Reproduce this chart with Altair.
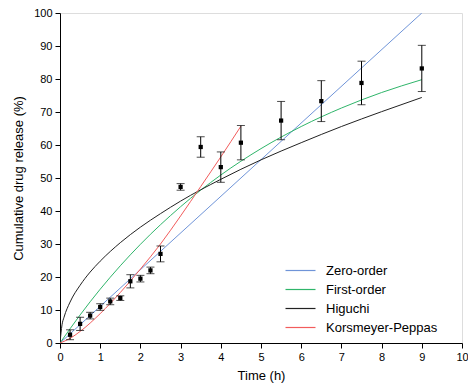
import altair as alt
import pandas as pd

# Experimental data
time = [0.25, 0.5, 0.75, 1.0, 1.25, 1.5, 1.75, 2.0, 2.25, 2.5, 3.0, 3.5, 4.0, 4.5, 5.5, 6.5, 7.5, 9.0]
release = [2.5, 5.8, 8.3, 10.9, 12.6, 13.6, 18.7, 19.5, 22.0, 27.0, 47.3, 59.4, 53.3, 60.7, 67.4, 73.3, 78.8, 83.2]
err = [1.5, 2.0, 1.0, 1.0, 1.0, 0.7, 2.0, 1.0, 1.0, 2.4, 1.0, 3.1, 4.6, 5.2, 5.8, 6.2, 6.6, 7.0]

# Model curves
zero_t = [0, 9.0]
zero_v = [0, 100.0]
first_t = [0, 0.5, 1, 1.5, 2, 3, 4, 5, 6, 7, 8, 9]
first_v = [0, 8.5, 16.3, 23.4, 29.9, 41.3, 50.9, 58.9, 65.6, 71.2, 75.9, 79.8]
hig_t = [0, 0.05, 0.1, 0.25, 0.5, 0.75, 1, 1.5, 2, 2.5, 3, 4, 5, 6, 7, 8, 9]
hig_v = [0, 5.5, 7.8, 12.4, 17.5, 21.5, 24.8, 30.4, 35.1, 39.2, 43.0, 49.6, 55.5, 60.7, 65.6, 70.1, 74.4]
kp_t = [0, 0.25, 0.5, 1, 1.5, 2, 2.5, 3, 3.5, 4, 4.5]
kp_v = [0, 1.4, 3.5, 8.9, 15.3, 22.4, 30.0, 38.5, 47.4, 56.4, 65.7]

models = ["Zero-order", "First-order", "Higuchi", "Korsmeyer-Peppas"]
colors = ["#6f94d8", "#2fb56a", "#222222", "#f25c5c"]

rows = []
for name, ts, vs in zip(models, [zero_t, first_t, hig_t, kp_t], [zero_v, first_v, hig_v, kp_v]):
    for t, v in zip(ts, vs):
        rows.append({"t": t, "v": v, "model": name})
curves = pd.DataFrame(rows)

pts = pd.DataFrame({"t": time, "v": release, "lo": [r - e for r, e in zip(release, err)],
                    "hi": [r + e for r, e in zip(release, err)]})

FONT = "Liberation Sans"

xs = alt.Scale(domain=[0, 10], nice=False, zero=True)
ys = alt.Scale(domain=[0, 100], nice=False, zero=True)

xaxis = alt.Axis(values=list(range(0, 11)), title="Time (h)", grid=False, tickSize=5,
                 labelFontSize=11, titleFontSize=13, titleFontWeight="normal",
                 labelColor="black", titleColor="black", domainColor="black", tickColor="black",
                 titlePadding=7, labelPadding=3, labelFont=FONT, titleFont=FONT,
                 labelOverlap=False, labelFlush=False)
yaxis = alt.Axis(values=list(range(0, 101, 10)), title="Cumulative drug release (%)", grid=False,
                 tickSize=5, labelFontSize=11, titleFontSize=13, titleFontWeight="normal",
                 labelColor="black", titleColor="black", domainColor="black", tickColor="black",
                 titlePadding=8, labelPadding=3, labelFont=FONT, titleFont=FONT,
                 labelOverlap=False, labelFlush=False)


def X(field):
    return alt.X(field, type="quantitative", scale=xs, axis=xaxis)


def Y(field):
    return alt.Y(field, type="quantitative", scale=ys, axis=yaxis)


lines = alt.Chart(curves).mark_line(strokeWidth=1, interpolate="monotone", clip=True).encode(
    x=X("t"),
    y=Y("v"),
    color=alt.Color("model:N", scale=alt.Scale(domain=models, range=colors),
                    legend=alt.Legend(title=None, orient="none", legendX=234, legendY=251,
                                      symbolType="M-3,0H3", symbolSize=100, symbolStrokeWidth=1.2,
                                      labelFontSize=13, labelFont=FONT, labelColor="black",
                                      rowPadding=5, labelOffset=19)),
    order=alt.Order("t:Q"),
)

bars = alt.Chart(pts).mark_rule(color="black", strokeWidth=1).encode(
    x=X("t"), y=Y("lo"), y2="hi:Q")
capl = alt.Chart(pts).mark_tick(color="black", orient="horizontal", size=8, thickness=1).encode(
    x=X("t"), y=Y("lo"))
caph = alt.Chart(pts).mark_tick(color="black", orient="horizontal", size=8, thickness=1).encode(
    x=X("t"), y=Y("hi"))
marks = alt.Chart(pts).mark_square(color="black", size=18, opacity=1).encode(x=X("t"), y=Y("v"))

chart = alt.layer(lines, bars, capl, caph, marks).properties(
    width=402, height=330,
    autosize=alt.AutoSizeParams(type="none"),
    padding={"left": 52, "top": 5, "right": 6, "bottom": 41},
).configure_view(stroke="black", strokeWidth=1).configure(background="white")

chart.save("out.html", embed_options={"renderer": "svg", "actions": False})
